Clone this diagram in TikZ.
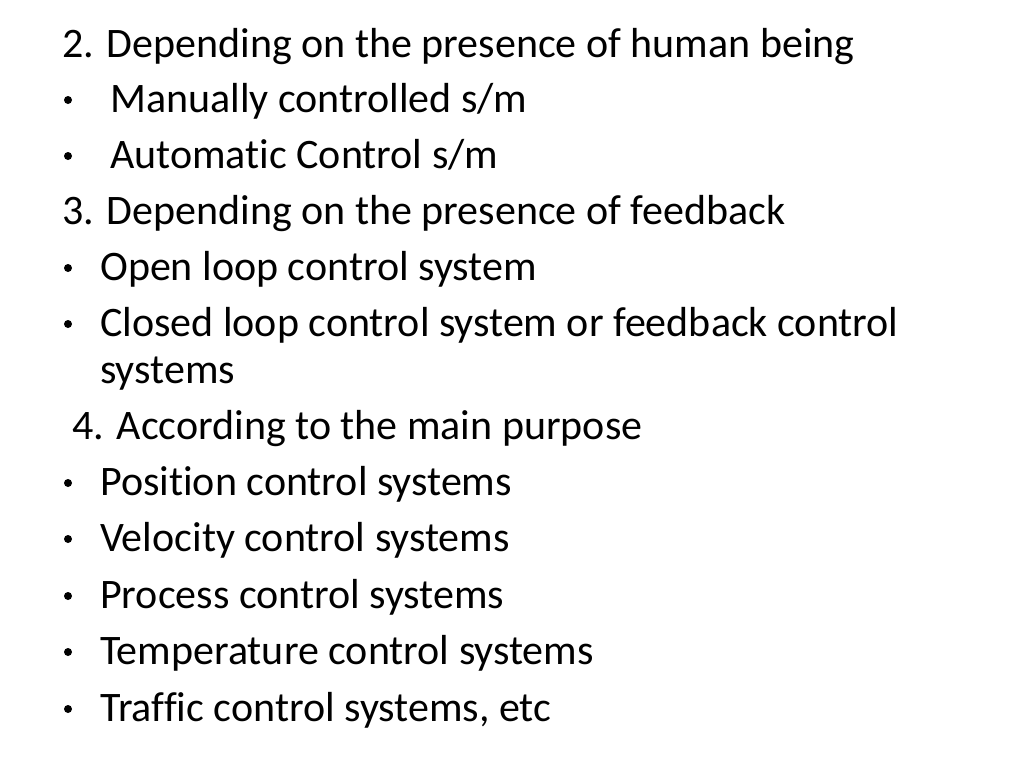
\documentclass[tikz,border=0pt]{standalone}
\usepackage{fontspec}
\setmainfont[Ligatures=NoCommon]{Carlito}
\begin{document}
\begin{tikzpicture}[x=1pt,y=-1pt,t/.style={anchor=base west,inner sep=0pt,font=\fontsize{42}{50}\selectfont},
bu/.style={circle,fill=black,inner sep=0pt,minimum size=8pt}]
\useasboundingbox (0,0) rectangle (1024,768);
\node[t] (h2) at (62,57) {2. Depending on the presence of human being};
\node[bu] (b1) at (68,100) {}; \node[t] (l1) at (110,112) {Manually controlled s/m};
\node[bu] (b2) at (68,156) {}; \node[t] (l2) at (110,168) {Automatic Control s/m};
\node[t] (h3) at (62,224) {3. Depending on the presence of feedback};
\node[bu] (b3) at (68,268) {}; \node[t] (l3) at (100,280) {Open loop control system};
\node[bu] (b4) at (68,324) {}; \node[t] (l4) at (100,336) {Closed loop control system or feedback control};
\node[t] (l4b) at (100,383) {systems};
\node[t] (h4) at (72,439) {4. According to the main purpose};
\node[bu] (b5) at (68,483) {}; \node[t] (l5) at (100,495) {Position control systems};
\node[bu] (b6) at (68,539) {}; \node[t] (l6) at (100,551) {Velocity control systems};
\node[bu] (b7) at (68,596) {}; \node[t] (l7) at (100,608) {Process control systems};
\node[bu] (b8) at (68,652) {}; \node[t] (l8) at (100,664) {Temperature control systems};
\node[bu] (b9) at (68,709) {}; \node[t] (l9) at (100,721) {Traffic control systems, etc};
\end{tikzpicture}
\end{document}
